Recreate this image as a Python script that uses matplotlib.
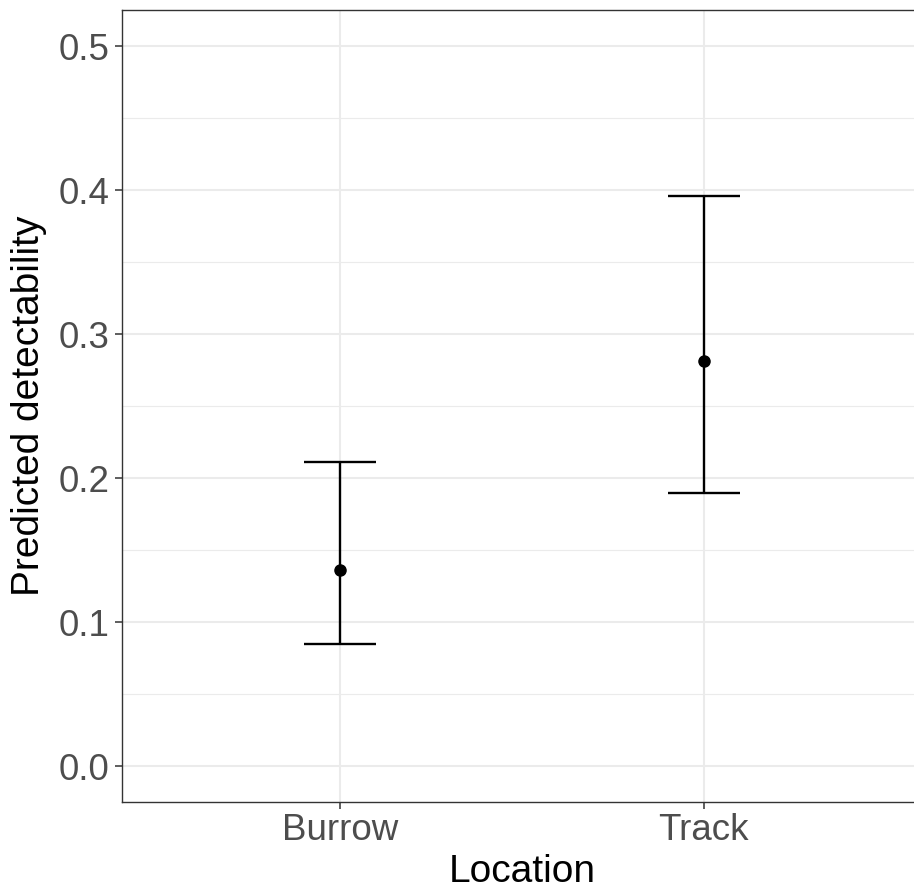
import matplotlib.pyplot as plt
import numpy as np

# datos
locations = ["Burrow", "Track"]
estimate = [0.136, 0.2815]
lower = [0.085, 0.190]
upper = [0.211, 0.396]
y_ticks = [0.0, 0.1, 0.2, 0.3, 0.4, 0.5]
y_minor = [0.05, 0.15, 0.25, 0.35, 0.45]

plt.rcParams['font.family'] = ['Liberation Sans', 'DejaVu Sans']

fig = plt.figure(figsize=(9.14, 8.92), dpi=100)
# el panel se sale un poco por la derecha, como en la imagen original
ax = fig.add_axes([122 / 914, 89.7 / 892, 800 / 914, 792.3 / 892])

x = np.arange(1, len(locations) + 1)
est = np.array(estimate)
err = [est - np.array(lower), np.array(upper) - est]

ax.errorbar(x, est, yerr=err, fmt='o', color='black', markersize=8,
            elinewidth=1.7, capsize=26.2, capthick=1.7, zorder=3)

ax.set_xticks(x)
ax.set_xticklabels(locations)
ax.set_yticks(y_ticks)
ax.set_yticklabels([f"{t:.1f}" for t in y_ticks])
ax.set_yticks(y_minor, minor=True)
ax.set_xlim(0.4, 2.6)
ax.set_ylim(-0.025, 0.525)

# estilo tipo theme_bw de ggplot
ax.grid(which='major', color='#EBEBEB', linewidth=1.5, zorder=0)
ax.grid(which='minor', axis='y', color='#EBEBEB', linewidth=0.8, zorder=0)
ax.set_axisbelow(True)
ax.tick_params(which='minor', length=0)
ax.tick_params(which='major', length=5, width=1.1, color='#333333',
               labelsize=26.5, labelcolor='#4D4D4D')
ax.tick_params(axis='y', pad=4)
ax.tick_params(axis='x', pad=3)
for s in ax.spines.values():
    s.set_color('#333333')
    s.set_linewidth(1.0)

ax.set_xlabel("Location", fontsize=28, color='black', labelpad=4)
ax.set_ylabel("Predicted detectability", fontsize=28, color='black', labelpad=8)

fig.savefig("out.png", dpi=100)
